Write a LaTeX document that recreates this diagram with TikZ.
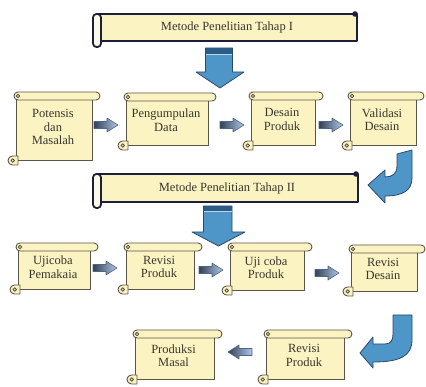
\documentclass[tikz,border=0pt]{standalone}
\usepackage{fontspec}
\setmainfont{Liberation Serif}
\usetikzlibrary{calc}
\definecolor{scrollfill}{HTML}{FCF3C2}
\definecolor{scrollline}{HTML}{5A5546}
\definecolor{bannerline}{HTML}{1B1F3B}
\definecolor{txt}{HTML}{38372C}
\definecolor{bigblue}{HTML}{4E96C7}
\definecolor{bigline}{HTML}{2A4A68}
\definecolor{bigdark}{HTML}{2C5C85}
\definecolor{arrdark}{HTML}{343F55}
\definecolor{arrlight}{HTML}{AFC8E8}
\definecolor{arrline}{HTML}{4E6686}
\tikzset{
  lbl/.style={font=\fontsize{12.5}{13.5}\selectfont, text=txt, align=center, inner sep=0pt},
  scrollpart/.style={draw=scrollline, fill=scrollfill, line width=0.9pt, line join=round},
  bannerpart/.style={draw=bannerline, fill=scrollfill, line width=1.8pt, line join=round},
  bigarrow/.style={draw=bigline, fill=bigblue, line width=0.8pt, line join=round},
  smallarrow/.style={draw=arrline, line width=0.6pt, left color=arrdark, right color=arrlight, line join=round},
  pics/scroll/.style n args={3}{code={
    \filldraw[scrollpart] (8,-4) rectangle ({#1-8},{-#2+5});
    \filldraw[scrollpart] (10,{-#2+9}) -- (4.5,{-#2+9}) arc[start angle=90,end angle=270,radius=4.5] -- (10,-#2) -- cycle;
    \draw[scrollpart] (4.8,{-#2+4.5}) circle[radius=1.8];
    \filldraw[scrollpart, rounded corners=3.9] (6,0) rectangle (#1,-8);
    \draw[scrollpart] (10,-4) circle[radius=1.8];
    \node[lbl] (-t) at ({#1/2-1},{-#2/2+1.5}) {#3};
  }},
  pics/rarr/.style={code={
    \path[smallarrow] (-12,3.5) -- (1,3.5) -- (1,7) -- (12,0) -- (1,-7) -- (1,-3.5) -- (-12,-3.5) -- cycle;
  }}
}
\begin{document}
\begin{tikzpicture}[x=1pt,y=1pt]
\useasboundingbox (0,0) rectangle (426,-387);
% banner 1
\filldraw[bannerpart] (98,-14) rectangle (357,-41);
\filldraw[bannerpart, fill=white!60!scrollfill, rounded corners=3.5] (93,-14) rectangle (101,-47);
\fill[bannerline] (355,-14) circle[radius=2.8];
\node[lbl] (ban1) at (227,-27.5) {Metode Penelitian Tahap I};
% down arrow 1
\filldraw[bigarrow] (205.5,-48) -- (232.5,-48) -- (232.5,-72) -- (244,-72) -- (220,-88) -- (196,-72) -- (205.5,-72) -- cycle;
\fill[bigdark] (206,-48.5) rectangle (232,-54);
\draw[white!60!bigblue, line width=0.6pt] (206,-54.6) -- (232,-54.6);
% row 1
\pic (pot) at (8,-92) {scroll={92}{73}{Potensis\\dan\\Masalah}};
\pic (peng) at (118,-93) {scroll={98}{57}{Pengumpulan\\Data}};
\pic (des) at (243,-92) {scroll={80}{58}{Desain\\Produk}};
\pic (val) at (342,-92) {scroll={82}{58}{Validasi\\Desain}};
\pic at (106,-125) {rarr};
\pic at (232,-125) {rarr};
\pic at (331,-125) {rarr};
% U arrow 1
\filldraw[bigarrow] (397,-154) -- (412,-150) -- (412,-178) .. controls (412,-191) and (402,-196) .. (385,-196) -- (385,-203) -- (368,-185) -- (385,-170) -- (385,-177) .. controls (392,-177) and (397,-174) .. (397,-166) -- cycle;
% banner 2
\filldraw[bannerpart] (98,-174) rectangle (358,-202);
\filldraw[bannerpart, fill=white!60!scrollfill, rounded corners=3.5] (93,-174) rectangle (101,-208);
\fill[bannerline] (356,-174) circle[radius=2.8];
\node[lbl] (ban2) at (227,-188.5) {Metode Penelitian Tahap II};
% down arrow 2
\filldraw[bigarrow] (203.5,-206) -- (232,-206) -- (232,-232) -- (245,-232) -- (218.5,-246) -- (192,-232) -- (203.5,-232) -- cycle;
\fill[bigdark] (204,-206.5) rectangle (231.5,-211);
\draw[white!60!bigblue, line width=0.6pt] (204,-211.6) -- (231.5,-211.6);
% row 2
\pic (uji) at (10,-243) {scroll={88}{51}{Ujicoba\\Pemakaia}};
\pic (rev) at (118,-243) {scroll={84}{51}{Revisi\\Produk}};
\pic (ujc) at (222,-243) {scroll={90}{52}{Uji coba\\Produk}};
\pic (rdes) at (343,-245) {scroll={82}{51}{Revisi\\Desain}};
\pic at (105,-268) {rarr};
\pic at (211,-270) {rarr};
\pic at (327,-273) {rarr};
% U arrow 2
\filldraw[bigarrow] (393,-315) -- (412,-315) -- (412,-340) .. controls (412,-356) and (400,-362) .. (373,-362) -- (373,-368) -- (360,-353) -- (373,-337) -- (373,-344) -- (385,-344) .. controls (391,-344) and (393,-340) .. (393,-334) -- cycle;
% row 3
\pic (prod) at (127,-330) {scroll={95}{54}{Produksi\\Masal}};
\pic (rev2) at (258,-330) {scroll={94}{54}{Revisi\\Produk}};
\pic[rotate=180] at (240,-352) {rarr};
\end{tikzpicture}
\end{document}
